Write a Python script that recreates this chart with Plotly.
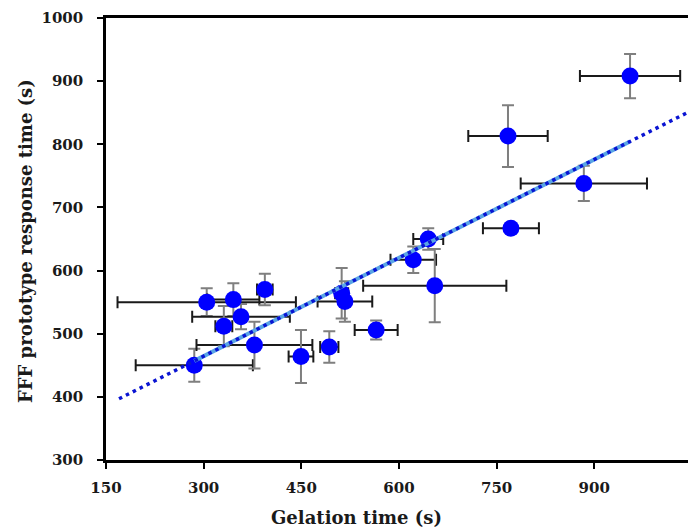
import numpy as np
import plotly.graph_objects as go

gelation_time = [955, 767.5, 884, 772, 645, 622, 655, 565, 493, 512, 517,
                 285.6, 378, 449.5, 304.7, 345.6, 394, 357.4, 331]
gelation_err = [77, 61, 97, 43, 23, 35, 110, 33, 14, 10, 42,
                90, 89, 19, 137, 40, 12, 75, 13]
response_time = [908, 813, 738, 667, 650, 617, 576, 506, 479, 564, 551,
                 450, 482, 464, 550, 554, 570, 527, 512]
response_err = [35, 49, 28, 5, 17, 21, 58, 15, 25, 40, 32,
                26, 37, 42, 22, 26, 25, 20, 32]

x_ticks = [150, 300, 450, 600, 750, 900]
y_ticks = [300, 400, 500, 600, 700, 800, 900, 1000]
trend_x_start = 170
trend_x_end = 1080

slope, intercept = np.polyfit(gelation_time, response_time, 1)

fig = go.Figure()
fig.add_trace(go.Scatter(
    x=gelation_time, y=response_time, mode="markers",
    marker=dict(color="#0000FF", size=17, line=dict(width=0)),
    error_x=dict(type="data", array=gelation_err, color="#1a1a1a", thickness=2, width=6),
    error_y=dict(type="data", array=response_err, color="#7f7f7f", thickness=2, width=6),
    showlegend=False,
))
xfit = [min(gelation_time), max(gelation_time)]
fig.add_trace(go.Scatter(
    x=xfit, y=[slope * v + intercept for v in xfit], mode="lines",
    line=dict(color="#5aa5e6", width=4), showlegend=False,
))
xtr = [trend_x_start, trend_x_end]
fig.add_trace(go.Scatter(
    x=xtr, y=[slope * v + intercept for v in xtr], mode="lines",
    line=dict(color="#0a14d2", width=3.5, dash="3.5px,4.2px"), showlegend=False,
))

tick_font = dict(family="DejaVu Serif", size=15, color="#1a1a1a", weight="bold")
title_font = dict(family="DejaVu Serif", size=18, color="#1a1a1a", weight="bold")
fig.update_layout(
    width=680, height=523,
    margin=dict(l=98, r=0, t=10, b=71),
    paper_bgcolor="white", plot_bgcolor="white",
    xaxis=dict(range=[150, 150 + 582 / 0.651], tickvals=x_ticks, showgrid=False, zeroline=False,
               showline=True, linecolor="black", linewidth=3, mirror=True,
               ticks="outside", ticklen=6, tickwidth=2, tickcolor="black",
               tickfont=tick_font, ticklabelstandoff=6),
    yaxis=dict(range=[300, 1000], tickvals=y_ticks, showgrid=False, zeroline=False,
               showline=True, linecolor="black", linewidth=2.5, mirror=False,
               ticks="outside", ticklen=6, tickwidth=2, tickcolor="black",
               tickfont=tick_font, ticklabelstandoff=11),
    annotations=[
        dict(text="Gelation time (s)", xref="paper", yref="paper",
             x=(356 - 106) / 582, y=(460 - 517) / 442,
             showarrow=False, xanchor="center", yanchor="middle", font=title_font),
        dict(text="FFF prototype response time (s)", xref="paper", yref="paper",
             x=(25 - 106) / 582, y=(460 - 241) / 442, textangle=-90, showarrow=False,
             xanchor="center", yanchor="middle", font=title_font),
    ],
)
fig.write_html("out.html")
